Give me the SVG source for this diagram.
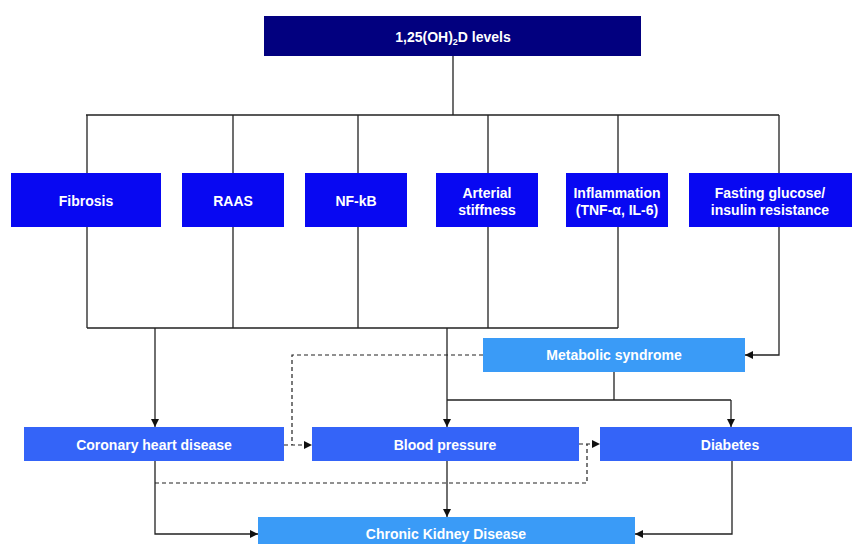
<svg xmlns="http://www.w3.org/2000/svg" width="854" height="544" viewBox="0 0 854 544">
<defs>
<marker id="ah" markerWidth="8" markerHeight="8" refX="8" refY="4" orient="auto" markerUnits="userSpaceOnUse">
<path d="M0,0 L8,4 L0,8 Z" fill="#111"/>
</marker>
</defs>
<style>
text{font-family:"Liberation Sans",Arial,sans-serif;font-weight:bold;font-size:14px;fill:#fff;text-anchor:middle}
.ln{fill:none;stroke:#222;stroke-width:1.3}
.ds{fill:none;stroke:#222;stroke-width:1.2;stroke-dasharray:4,3}
.navy{fill:#02007f}
.blue{fill:#0808f2}
.mid{fill:#3464f8}
.lt{fill:#3a9bf7}
</style>
<rect width="854" height="544" fill="#fff"/>
<g id="connectors">
<path class="ln" d="M453,56 V115 M86,115 H779 M87,115 V173 M233,115 V173 M358,115 V173 M488,115 V173 M618,115 V173 M779,115 V173"/>
<path class="ln" d="M87,227 V328 M233,227 V328 M358,227 V328 M488,227 V328 M618,227 V328 M87,328 H618"/>
<path class="ln" d="M155,328 V427" marker-end="url(#ah)"/>
<path class="ln" d="M447,328 V427" marker-end="url(#ah)"/>
<path class="ln" d="M779,227 V355 H745" marker-end="url(#ah)"/>
<path class="ln" d="M614,372 V400 M447,400 H731"/>
<path class="ln" d="M731,400 V427" marker-end="url(#ah)"/>
<path class="ln" d="M447,461 V517" marker-end="url(#ah)"/>
<path class="ln" d="M155,461 V534 H258" marker-end="url(#ah)"/>
<path class="ln" d="M732,461 V534 H635" marker-end="url(#ah)"/>
<path class="ds" d="M483,355 H292 V445"/>
<path class="ds" d="M284,445 H312" marker-end="url(#ah)"/>
<path class="ds" d="M579,444 H600" marker-end="url(#ah)"/>
<path class="ds" d="M155,483 H587 V444"/>
</g>
<g id="n-top"><rect class="navy" x="264" y="16" width="377" height="40"/><text x="453" y="42">1,25(OH)<tspan font-size="9" dy="3">2</tspan><tspan dy="-3">D levels</tspan></text></g>
<g id="n-fibrosis"><rect class="blue" x="11" y="173" width="150" height="54"/><text x="86" y="206">Fibrosis</text></g>
<g id="n-raas"><rect class="blue" x="182" y="173" width="102" height="54"/><text x="233" y="206">RAAS</text></g>
<g id="n-nfkb"><rect class="blue" x="305" y="173" width="102" height="54"/><text x="356" y="206">NF-kB</text></g>
<g id="n-arterial"><rect class="blue" x="436" y="173" width="102" height="54"/><text x="487" y="198">Arterial</text><text x="487" y="215">stiffness</text></g>
<g id="n-inflammation"><rect class="blue" x="566" y="173" width="102" height="54"/><text x="617" y="198">Inflammation</text><text x="617" y="215">(TNF-α, IL-6)</text></g>
<g id="n-fasting"><rect class="blue" x="689" y="173" width="163" height="54"/><text x="770" y="198">Fasting glucose/</text><text x="770" y="215">insulin resistance</text></g>
<g id="n-metabolic"><rect class="lt" x="483" y="338" width="262" height="34"/><text x="614" y="360">Metabolic syndrome</text></g>
<g id="n-chd"><rect class="mid" x="24" y="427" width="260" height="34"/><text x="154" y="450">Coronary heart disease</text></g>
<g id="n-bp"><rect class="mid" x="312" y="427" width="267" height="34"/><text x="445" y="450">Blood pressure</text></g>
<g id="n-diabetes"><rect class="mid" x="600" y="427" width="252" height="34"/><text x="730" y="450">Diabetes</text></g>
<g id="n-ckd"><rect class="lt" x="258" y="517" width="377" height="34"/><text x="446" y="539">Chronic Kidney Disease</text></g>
</svg>
